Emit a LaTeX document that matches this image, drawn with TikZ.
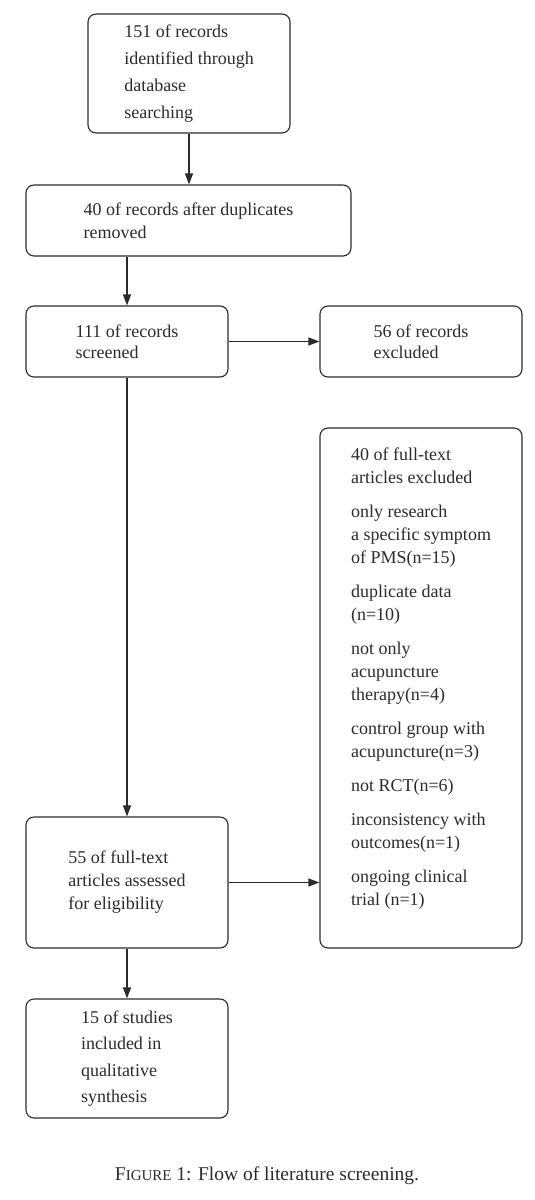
\documentclass[tikz,border=0pt]{standalone}
\usepackage{fontspec}
\setmainfont{Liberation Serif}
\usetikzlibrary{arrows.meta}
\definecolor{ink}{HTML}{2B2B2B}
\begin{document}
\begin{tikzpicture}[x=1pt,y=-1pt,
  flowbox/.style={draw=ink, line width=1.1pt, rounded corners=8pt, align=left,
    font=\fontsize{18}{23}\selectfont, text=ink, inner sep=0pt},
  flowarrow/.style={draw=ink, line width=1.1pt, -{Triangle[length=11pt,width=8pt]}}]
\useasboundingbox (0,0) rectangle (535,1200);
\node[flowbox, minimum width=202pt, minimum height=119pt] (b1) at (189,73.5)
  {151 of records\\[3.8pt] identified through\\[3.8pt] database\\[3.8pt] searching};
\node[flowbox, minimum width=325pt, minimum height=71pt] (b2) at (188.5,220.5)
  {40 of records after duplicates\\ removed};
\node[flowbox, minimum width=202pt, minimum height=71pt] (b3) at (127,341.5)
  {111 of records\\[-1.5pt] screened};
\node[flowbox, minimum width=202pt, minimum height=71pt] (b4) at (421,341.5)
  {56 of records\\[-1.5pt] excluded};
\node[flowbox, minimum width=202pt, minimum height=520pt] (b5) at (421,688)
  {40 of full-text\\ articles excluded\\[11pt]
   only research\\ a specific symptom\\ of PMS(n=15)\\[11pt]
   duplicate data\\ (n=10)\\[11pt]
   not only\\ acupuncture\\ therapy(n=4)\\[11pt]
   control group with\\ acupuncture(n=3)\\[11pt]
   not RCT(n=6)\\[11pt]
   inconsistency with\\ outcomes(n=1)\\[11pt]
   ongoing clinical\\ trial (n=1)\\ \mbox{}};
\node[flowbox, minimum width=202pt, minimum height=131pt] (b6) at (127,882.5)
  {55 of full-text\\ articles assessed\\ for eligibility};
\node[flowbox, minimum width=202pt, minimum height=119pt] (b7) at (127,1058.5)
  {15 of studies\\[3.5pt] included in\\[3.5pt] qualitative\\[3.5pt] synthesis};
\node[text=ink, font=\fontsize{19.5}{22}\selectfont, inner sep=0pt] (cap) at (267,1176)
  {F{\fontsize{15}{18}\selectfont IGURE} 1: Flow of literature screening.};
\draw[flowarrow] (b1.south) -- (b2.north -| b1.south);
\draw[flowarrow] (b2.south -| b3.north) -- (b3.north);
\draw[flowarrow] (b3.east) -- (b4.west);
\draw[flowarrow] (b3.south) -- (b6.north);
\draw[flowarrow] (b6.east) -- (b6.east -| b5.west);
\draw[flowarrow] (b6.south) -- (b7.north);
\end{tikzpicture}
\end{document}
